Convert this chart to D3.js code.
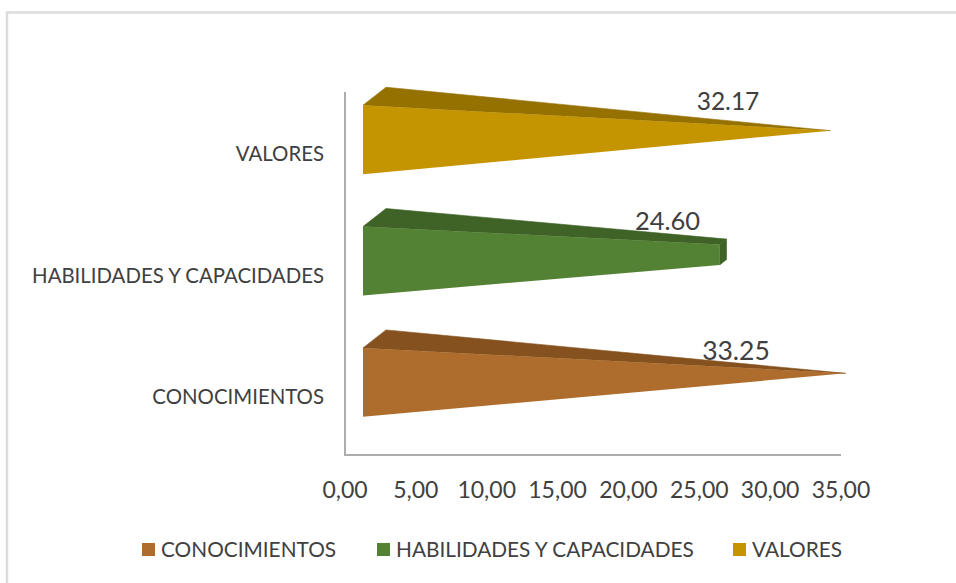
<!DOCTYPE html>
<html lang="en">
<head>
<meta charset="utf-8">
<title>piramides</title>
<script src="https://cdn.jsdelivr.net/npm/d3@7"></script>
<style>
html, body { margin: 0; padding: 0; background: #fff; }
svg { display: block; }
text { font-family: Lato, sans-serif; fill: #404040; }
</style>
</head>
<body>
<script>
var categories = ["CONOCIMIENTOS", "HABILIDADES Y CAPACIDADES", "VALORES"];
var values = [33.25, 24.60, 32.17];
// the pyramid of each bar narrows to its point at this value
var apexValues = [33.25, 35, 32.17];
var valueLabels = ["33.25", "24.60", "32.17"];
var xTicks = [0, 5, 10, 15, 20, 25, 30, 35];
var colors = ["#ae6d2c", "#548235", "#c49500"];
var topColors = ["#85521f", "#3f6327", "#957100"];

var width = 956, height = 583;
var svg = d3.select("body").append("svg")
	.attr("width", width)
	.attr("height", height);

// chart frame
svg.append("path")
	.attr("d", "M7,583V12.5H956")
	.attr("fill", "none")
	.attr("stroke", "#dcdcdc")
	.attr("stroke-width", 2.5);

var x = d3.scaleLinear().domain([0, 35]).range([345, 841]);
var y = d3.scaleBand().domain(categories.slice().reverse()).range([92, 456]).paddingInner(0.432).paddingOuter(0.216);

// 3d box of the bars
var depthX = 23, depthY = 18, floorX = 18;

// point on the pyramid: t is the value, d the depth 0-1, s the side -1 top, 1 bottom
function corner(i, t, d, s) {
	var cat = categories[i];
	var rest = 1 - t / apexValues[i];
	var dd = 0.5 + (d - 0.5) * rest;
	var cy = y(cat) + y.bandwidth() / 2 - 13;
	return [x(t) + floorX + dd * depthX, cy - dd * depthY + s * rest * y.bandwidth() / 2];
}
var line = d3.line();

categories.forEach(function(cat, i) {
	var g = svg.append("g").attr("class", "bar");
	var v = values[i];
	// top
	g.append("path")
		.attr("fill", topColors[i])
		.attr("stroke", topColors[i])
		.attr("stroke-width", 0.6)
		.attr("stroke-linejoin", "round")
		.attr("d", line([corner(i, 0, 0, -1), corner(i, 0, 1, -1), corner(i, v, 1, -1), corner(i, v, 0, -1)]) + "Z");
	// end of a cut pyramid
	g.append("path")
		.attr("fill", topColors[i])
		.attr("stroke", topColors[i])
		.attr("stroke-width", 0.6)
		.attr("stroke-linejoin", "round")
		.attr("d", line([corner(i, v, 0, -1), corner(i, v, 1, -1), corner(i, v, 1, 1), corner(i, v, 0, 1)]) + "Z");
	// front
	g.append("path")
		.attr("fill", colors[i])
		.attr("d", line([corner(i, 0, 0, -1), corner(i, v, 0, -1), corner(i, v, 0, 1), corner(i, 0, 0, 1)]) + "Z");
});

// axes
var axisY = 455;
svg.append("path")
	.attr("class", "axisline")
	.attr("d", "M" + x(0) + ",92V" + axisY + "H" + x(35))
	.attr("fill", "none")
	.attr("stroke", "#adadad")
	.attr("stroke-width", 2);

svg.selectAll(".tick-label")
	.data(xTicks)
	.enter().append("text")
	.attr("class", "tick-label")
	.attr("x", function(d) { return x(d); })
	.attr("y", 498)
	.attr("text-anchor", "middle")
	.style("font-size", "23px")
	.text(function(d) { return d3.format(".2f")(d).replace(".", ","); });

svg.selectAll(".cat-label")
	.data(categories)
	.enter().append("text")
	.attr("class", "cat-label")
	.attr("x", 324)
	.attr("y", function(d) { return y(d) + y.bandwidth() / 2 + 8.5; })
	.attr("text-anchor", "end")
	.style("font-size", "20.4px")
	.text(function(d) { return d; });

// data labels
var labelX = [736, 667.5, 728], labelY = [360, 230, 110], labelSize = [26.5, 25.5, 24.5];
svg.selectAll(".value-label")
	.data(valueLabels)
	.enter().append("text")
	.attr("class", "value-label")
	.attr("x", function(d, i) { return labelX[i]; })
	.attr("y", function(d, i) { return labelY[i]; })
	.attr("text-anchor", "middle")
	.style("font-size", function(d, i) { return labelSize[i] + "px"; })
	.text(function(d) { return d; });

// legend
var legendX = [142, 377, 733];
var legend = svg.selectAll(".legend")
	.data(categories)
	.enter().append("g")
	.attr("class", "legend")
	.attr("transform", function(d, i) { return "translate(" + legendX[i] + ",543)"; });
legend.append("rect")
	.attr("width", 13)
	.attr("height", 13)
	.attr("fill", function(d, i) { return colors[i]; });
legend.append("text")
	.attr("x", 19)
	.attr("y", 14)
	.style("font-size", "20.8px")
	.text(function(d) { return d; });
</script>
</body>
</html>
